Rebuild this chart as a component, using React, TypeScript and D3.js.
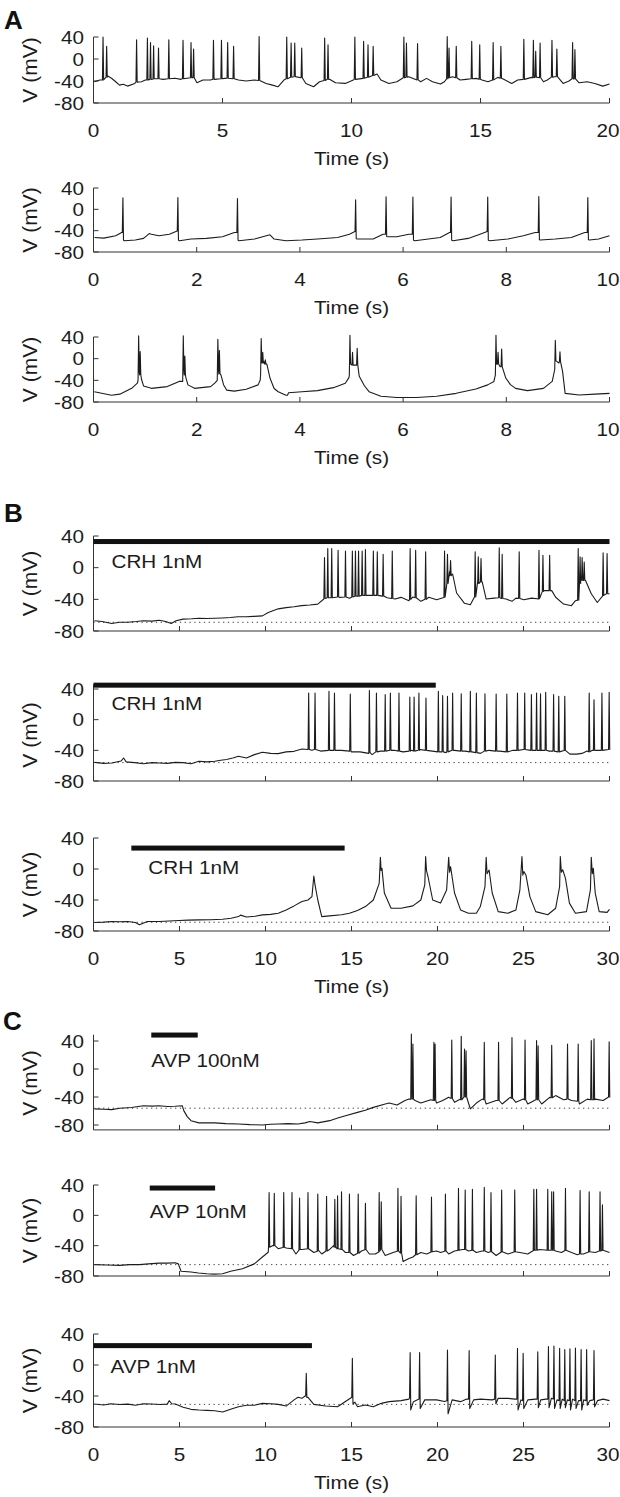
import React from 'react';
import * as d3 from 'd3';

type Pt = [number, number];
type Spk = number[]; // [t, peak, base, post?]

// ---------------- Panel A traces ----------------
const a1Base: Pt[] = [[0.03,-41.3],[0.25,-38.3],[0.55,-31],[0.7,-35],[0.86,-41.3],[1.01,-47.5],[1.15,-46],[1.32,-49.3],[1.60,-44.4],[1.86,-41.3],[2.01,-38.3],[2.32,-36.5],[2.70,-37],[3.16,-35],[3.39,-37],[3.82,-33.4],[4.01,-43.2],[4.24,-38.3],[4.54,-38.3],[5.08,-35.2],[5.62,-38.3],[5.92,-40.1],[6.23,-38.3],[6.69,-44.4],[6.9,-47],[7.15,-50.5],[7.38,-38.3],[7.77,-32.2],[8.23,-44.4],[8.53,-50.5],[8.76,-41.3],[9.15,-37],[9.38,-43.2],[9.76,-44.4],[10.07,-38.3],[10.45,-35.2],[10.99,-27.3],[11.14,-38.3],[11.45,-44.4],[11.76,-41.3],[12.22,-32.2],[12.68,-41.3],[12.91,-35.2],[13.14,-41.3],[13.45,-45.6],[13.60,-41.3],[13.91,-32.2],[14.21,-38.3],[14.44,-37],[14.83,-35.2],[15.06,-38.3],[15.29,-41.3],[15.67,-33.4],[15.90,-37],[16.21,-44.4],[16.44,-38.3],[16.98,-33.4],[17.44,-41.3],[17.59,-38.3],[17.87,-32.2],[18.20,-44.4],[18.43,-40.1],[18.62,-36.5],[18.82,-43.2],[19.13,-41.3],[19.43,-44.4],[19.74,-49.3],[20.0,-45.6]];
const a1Spikes: Spk[] = [[0.37,40,-38],[0.51,23,-33],[1.67,35,-42],[2.09,38,-38],[2.21,30,-37],[2.33,24,-36],[2.52,20,-36],[2.92,35,-36],[3.47,34,-36],[3.78,30,-34],[3.88,18,-34],[4.65,34,-37],[4.96,34,-36],[5.20,30,-35],[5.43,23,-36],[6.42,41,-39],[7.49,40,-36],[7.66,29,-33],[7.80,29,-32],[8.07,20,-34],[8.96,38,-39],[9.09,26,-37],[10.13,40,-37],[10.47,32,-35],[10.64,26,-33],[10.84,23,-30],[12.03,40,-34],[12.13,29,-33],[12.56,28,-38],[13.71,41,-36],[13.78,20,-34],[14.06,23,-34],[14.66,32,-36],[14.97,26,-37],[15.49,30,-38],[15.79,23,-35],[16.68,36,-37],[17.05,34,-34],[17.14,14,-33],[17.31,29,-34],[17.77,34,-33],[17.96,18,-32],[18.57,30,-36],[18.66,17,-36]];

const a2Base: Pt[] = [[0.02,-52.7],[0.20,-54],[0.43,-49.6],[0.545,-43.5],[0.60,-58.8],[0.81,-57.6],[0.97,-54.5],[1.08,-45.4],[1.12,-46.6],[1.27,-49.6],[1.47,-46.6],[1.62,-40.5],[1.67,-58.8],[1.89,-55.7],[2.19,-54.5],[2.50,-51.5],[2.73,-43.5],[2.82,-58.8],[3.12,-55.7],[3.42,-47.8],[3.50,-55.7],[3.73,-58.8],[4.04,-57.6],[4.34,-55.7],[4.73,-52.7],[4.96,-46.6],[5.065,-41.7],[5.11,-55.7],[5.42,-55.7],[5.61,-46.6],[5.71,-51.5],[5.88,-51.5],[6.11,-46.6],[6.23,-58.8],[6.49,-55.7],[6.72,-52.7],[6.90,-43.5],[6.97,-58.8],[7.26,-54.5],[7.49,-46.6],[7.63,-41.7],[7.68,-58.8],[8.03,-55.7],[8.33,-49.6],[8.56,-43.5],[8.66,-57.6],[8.95,-55.7],[9.26,-52.7],[9.52,-43.5],[9.61,-57.6],[9.79,-55.7],[10.0,-49.6]];
const a2Spikes: Spk[] = [[0.57,21.7,-43.5,-58],[1.635,22,-40.5,-58],[2.79,20,-43.5,-58],[5.08,18,-41.7,-55],[5.67,23.5,-46.6,-51],[6.19,23,-46.6,-58],[6.93,23,-43.5,-58],[7.64,23,-41.7,-58],[8.63,24,-43.5,-57],[9.58,22,-43.5,-57]];

const a3Base: Pt[] = [[0.015,-61],[0.35,-67.4],[0.51,-65.5],[0.74,-54.8],[0.85,-45.3],[0.93,-38],[0.97,-50.3],[1.12,-54.8],[1.43,-51.6],[1.66,-42],[1.79,-35],[1.83,-48.4],[1.96,-54.8],[2.27,-51.6],[2.35,-45],[2.47,-30],[2.52,-48],[2.58,-58],[2.73,-60],[2.96,-56.6],[3.19,-48.4],[3.23,-40],[3.30,-5],[3.36,-10],[3.42,-35.8],[3.50,-55],[3.58,-61],[3.73,-67.4],[3.76,-67.4],[3.78,-63],[4.04,-61],[4.34,-59],[4.65,-53.5],[4.88,-45.3],[4.95,-35],[5.06,-12],[5.15,-32.6],[5.25,-50],[5.34,-61],[5.57,-69.3],[5.88,-71.8],[6.26,-71.8],[6.65,-69.3],[7.03,-64],[7.41,-56],[7.64,-48.4],[7.76,-42],[7.88,-15],[7.99,-35.8],[8.08,-48],[8.18,-54.8],[8.41,-59],[8.72,-54.8],[8.89,-42],[9.02,-8],[9.09,-23],[9.14,-64],[9.41,-67],[9.72,-65.5],[10.0,-64]];
const a3Spikes: Spk[] = [[0.875,42,-40,-25],[0.905,13,-30],[1.74,42,-42,-20],[1.77,5,-30],[2.41,35.6,-40,-20],[2.44,15,-28],[3.25,37,-30,-8],[3.28,11.6,-8],[3.33,-2,-10],[4.97,43,-30,-10],[5.02,11.6,-12],[5.11,19,-12],[7.80,43,-30,-10],[7.84,11.6,-10],[7.91,17.9,-15],[8.95,33.7,-20,-4],[9.04,12.8,-6]];

// ---------------- Panel B traces ----------------
const b1Base: Pt[] = [[0.05,-67],[0.5,-68],[1.06,-70.6],[1.5,-69],[1.98,-69],[2.5,-68],[2.90,-67],[3.4,-67.5],[3.82,-66.4],[4.2,-68],[4.52,-70.6],[4.8,-67],[5.21,-65],[5.7,-64.5],[6.13,-63.8],[6.6,-64.2],[7.05,-63.8],[7.5,-63.5],[7.97,-63],[8.4,-62],[8.89,-62],[9.3,-61.5],[9.82,-60.9],[10.16,-56.6],[10.74,-52],[11.2,-50.5],[11.66,-49.4],[12.1,-48],[12.58,-47.2],[13.04,-46],[13.39,-39.6],[13.8,-38],[14.3,-37.5],[14.88,-38.5],[15.35,-36],[15.9,-35],[16.38,-35],[16.9,-36],[17.07,-38],[17.53,-39.6],[17.88,-37.5],[18.34,-41.7],[18.57,-37],[19.03,-42.5],[19.49,-37.4],[19.95,-40.5],[20.41,-37.4],[20.7,-5],[20.88,-8],[21.11,-32],[21.57,-45],[21.91,-46.8],[22.14,-37.4],[22.35,-15],[22.6,-18],[22.83,-39.6],[23.29,-38.5],[23.99,-39.6],[24.33,-42.5],[24.56,-38.5],[25.02,-40.5],[25.48,-38.5],[25.9,-39.6],[26.15,-29],[26.64,-29],[26.87,-37.4],[27.33,-46],[27.79,-48],[28.02,-41.7],[28.3,-15],[28.6,-16],[28.94,-33],[29.29,-44],[29.63,-35],[30,-33]];
const b1Spikes: Spk[] = [[13.43,12.8,-39],[13.62,24,-38],[13.85,24,-38],[14.22,22,-37],[14.65,21,-37],[15.05,21,-37],[15.23,21,-36],[15.41,21,-36],[15.62,21,-35],[15.81,23,-35],[16.27,21,-35],[16.50,20,-35],[16.84,17,-36],[17.37,21,-39],[18.41,24,-40],[18.73,22,-38],[19.31,20,-40],[20.41,21,-37],[20.58,17,-20],[20.76,9,-10],[22.19,20,-37],[22.37,13.6,-20],[22.53,11.5,-18],[23.59,25,-38],[23.76,17,-39],[24.75,20,-39],[25.90,22,-39],[26.13,15.7,-30],[26.52,15.7,-29],[28.18,24,-41],[28.29,13.6,-20],[28.41,12.8,-16],[28.53,7,-16],[29.63,18.7,-35],[29.86,17.9,-33]];

const b2Base: Pt[] = [[0.05,-55.7],[0.6,-57],[1.06,-56.5],[1.6,-54],[1.75,-50],[1.9,-55],[2.4,-56],[2.9,-57.4],[3.4,-56],[3.82,-56.5],[4.3,-57],[4.75,-55.7],[5.2,-56],[5.67,-57.4],[6.13,-54.3],[6.6,-55],[7.05,-54.3],[7.4,-53],[7.74,-52],[8.1,-50],[8.43,-47.8],[8.89,-50],[9.36,-45.6],[9.82,-42.6],[10.3,-44],[10.74,-44.3],[11.2,-42],[11.66,-41.3],[12.12,-38.3],[12.7,-40],[13.2,-41],[13.9,-40],[14.4,-40],[15.0,-42],[15.5,-42],[16.0,-44],[16.2,-45.6],[16.7,-41],[17.5,-40],[18.0,-42],[18.5,-40],[19.0,-39],[19.7,-41],[20.5,-43],[21.0,-40],[21.6,-41],[22.0,-42],[22.5,-44],[23.0,-40],[23.6,-41],[24.0,-42],[24.4,-40],[25.0,-39],[25.5,-40],[26.0,-40],[26.5,-41],[27.0,-42],[27.4,-40],[27.7,-45],[28.1,-45],[28.4,-44],[28.7,-41],[29.0,-40],[29.5,-40],[30,-39]];
const b2Spikes: Spk[] = [[12.51,34.8,-39],[12.88,34.8,-39],[13.69,37,-40],[14.01,34.8,-40],[14.93,33.5,-41],[16.04,38,-43],[16.45,34.8,-42],[16.96,32.6,-41],[17.26,34.8,-40],[17.76,34.8,-41],[18.39,29.6,-41],[18.64,29.6,-41],[18.92,34.8,-40],[19.33,28.3,-40],[20.05,37,-42],[20.30,31.3,-42],[20.58,30.4,-42],[20.88,34.8,-40],[21.38,33.9,-41],[21.91,37,-42],[22.26,34.8,-43],[22.76,33.9,-41],[23.41,33.5,-41],[24.03,33.5,-42],[24.65,34.8,-40],[25.07,34.8,-39],[25.46,32.6,-40],[25.76,34.8,-40],[25.99,33.9,-40],[26.29,35.7,-40],[26.75,32.6,-41],[27.05,30.4,-42],[27.40,30.4,-40],[28.82,34.8,-42],[29.10,26,-40],[29.56,34.8,-40],[29.98,35.7,-39]];

const b3Base: Pt[] = [[0.05,-69],[0.6,-68.5],[1.06,-67.8],[1.5,-68],[1.98,-67.8],[2.44,-69],[2.67,-72],[3.13,-67.8],[3.82,-67.8],[4.4,-67],[4.98,-66.5],[5.5,-66],[6.13,-65.7],[6.8,-65.5],[7.51,-64.8],[8.0,-63.5],[8.43,-61.4],[8.55,-59.5],[8.89,-62],[9.4,-61],[9.82,-59.2],[10.3,-58.5],[10.74,-57],[11.20,-52.8],[11.66,-47.6],[12.12,-42],[12.47,-40],[12.70,-35.6],[12.81,-9],[12.88,-20.6],[13.04,-40],[13.27,-61.4],[13.73,-60.5],[14.42,-59],[14.88,-57],[15.35,-53.6],[15.81,-48.5],[16.27,-40],[16.61,-18.5],[16.68,15],[16.72,-2],[16.77,0.8],[16.91,-31],[17.30,-50.6],[17.88,-50.6],[18.57,-47.6],[19.03,-40],[19.26,-20.6],[19.31,16],[19.36,-2],[19.45,-10],[19.72,-40],[20.18,-44],[20.53,-27],[20.65,15],[20.70,-4],[20.76,3],[20.99,-31],[21.34,-52.8],[21.80,-57],[22.26,-57],[22.49,-48.5],[22.76,-22.7],[22.83,15],[22.88,-6],[23.0,-1.3],[23.18,-31],[23.53,-55],[24.10,-57],[24.56,-52.8],[24.79,-27],[24.91,16],[24.96,-8],[25.02,-3.4],[25.14,-7.7],[25.37,-35.6],[25.71,-55],[26.41,-59],[26.87,-50.6],[27.10,-22.7],[27.14,16],[27.20,-4],[27.28,-1],[27.44,-12],[27.67,-44],[28.02,-57],[28.66,-55],[28.89,-27],[28.94,15],[29.0,-6],[29.06,1],[29.17,-31],[29.40,-55],[29.86,-56],[30,-52]];
const b3Spikes: Spk[] = [];

// ---------------- Panel C traces ----------------
const c1Base: Pt[] = [[0.05,-57],[0.6,-57.5],[1.06,-58],[1.52,-56],[2.21,-55],[2.90,-52.4],[3.4,-53],[3.82,-52.4],[4.3,-53.5],[4.75,-53.3],[5.16,-52.4],[5.25,-59.5],[5.45,-68],[5.67,-73.8],[6.13,-77],[7.05,-77],[7.7,-78],[8.43,-78.6],[9.1,-79.5],[9.82,-80],[10.3,-79],[10.74,-78.6],[11.3,-78],[11.89,-78.6],[12.3,-77],[12.58,-75],[13.04,-77],[13.73,-73.8],[14.2,-70],[14.65,-66.7],[15.35,-62],[15.8,-59],[16.27,-54.8],[16.96,-50],[17.19,-48.6],[17.65,-51.4],[18.11,-45],[18.34,-43],[18.69,-45],[19.03,-48.6],[19.61,-44],[19.95,-48.6],[20.3,-45],[20.65,-40.5],[20.99,-47.6],[21.34,-43],[21.80,-48.6],[21.91,-57],[22.26,-48.6],[22.60,-43],[22.83,-50],[23.41,-45],[23.76,-50],[24.22,-40.5],[24.56,-47.6],[24.98,-43],[25.25,-50],[25.71,-44],[26.06,-50],[26.52,-40.5],[26.87,-38],[27.33,-44],[27.79,-45],[28.25,-50],[28.71,-43],[29.17,-43],[29.63,-45],[30,-39]];
const c1Spikes: Spk[] = [[18.48,50,-43],[18.57,35.7,-43],[19.79,38,-45],[19.86,35.7,-45],[20.83,41.4,-42],[21.38,46.7,-44],[21.57,28.6,-40],[21.66,26,-40],[22.72,38,-44],[23.55,38,-45],[24.33,45,-42],[25.09,41.4,-44],[25.76,40.5,-44],[25.85,33,-44],[26.64,34,-41],[27.56,35.7,-43],[28.18,35.7,-46],[28.94,40.5,-44],[29.10,43,-44],[29.98,39,-40]];

const c2Base: Pt[] = [[0.05,-65],[0.8,-65.5],[1.52,-66],[2.1,-65],[2.67,-65],[3.2,-64],[3.82,-63],[4.3,-63],[4.75,-62.6],[4.93,-64],[5.09,-73.8],[5.67,-74.7],[6.1,-76],[6.59,-77],[7.0,-77.5],[7.51,-77],[7.97,-73.8],[8.66,-70.4],[9.35,-64],[9.82,-55],[10.16,-48.7],[10.4,-40],[10.74,-44],[11.06,-42],[11.20,-43],[11.54,-44],[11.77,-51],[11.98,-45],[12.12,-45],[12.47,-44],[12.81,-49],[13.04,-47],[13.27,-51],[13.73,-45],[13.96,-40],[14.19,-44],[14.42,-45],[14.65,-49],[15.12,-53],[15.58,-47],[15.81,-45],[16.04,-51],[16.38,-51],[16.61,-48],[16.96,-53],[17.42,-49],[17.70,-47],[18.0,-61],[18.34,-57],[18.57,-55],[19.03,-49],[19.38,-51],[19.65,-48],[19.95,-47],[20.18,-49],[20.46,-47],[20.65,-51],[20.99,-47],[21.22,-46],[21.45,-45],[21.80,-47],[22.03,-46],[22.26,-49],[22.60,-47],[22.95,-49],[23.41,-53],[23.73,-48],[24.10,-51],[24.49,-48],[24.79,-49],[25.25,-51],[25.60,-46],[25.94,-45],[26.41,-46],[26.87,-47],[27.21,-49],[27.44,-46],[27.79,-49],[28.13,-52],[28.48,-51],[28.82,-48],[29.17,-49],[29.59,-46],[30,-49]];
const c2Spikes: Spk[] = [[10.21,30,-42],[10.51,29,-40],[11.06,30,-42],[11.54,30,-44],[11.98,22.7,-45],[12.47,30,-44],[13.04,28,-46],[13.55,25,-47],[14.03,21,-42],[14.19,25.7,-44],[14.42,31,-45],[14.88,28,-49],[15.39,28,-50],[15.81,16,-45],[16.61,30,-47],[16.73,18,-45],[17.70,35.7,-47],[17.88,25,-50],[18.76,25.7,-52],[19.65,24,-48],[20.46,28,-47],[21.22,35.7,-46],[21.61,33.5,-45],[22.03,34.4,-46],[22.72,37,-47],[23.11,30,-48],[23.73,33.5,-48],[24.49,33.5,-48],[25.60,34.4,-46],[25.76,34.4,-46],[26.41,34.4,-46],[26.64,31,-46],[26.75,31,-46],[27.44,35.7,-46],[28.29,32.6,-51],[28.82,31,-48],[29.45,31,-47],[29.59,14,-46]];

const c3Base: Pt[] = [[0.05,-50.3],[0.6,-51.6],[1.0,-50],[1.52,-51],[2.0,-50.5],[2.44,-52],[2.9,-50],[3.36,-50.3],[3.9,-51],[4.29,-50.5],[4.40,-46],[4.55,-50],[4.75,-50.3],[5.21,-54.6],[5.67,-57.2],[6.13,-58],[6.6,-58.5],[7.05,-59],[7.51,-60.6],[7.97,-57],[8.43,-53.8],[8.9,-52],[9.35,-52],[9.82,-49.5],[10.3,-50],[10.74,-50.8],[11.20,-53],[11.66,-45],[11.89,-41.7],[12.12,-43],[12.30,-40],[12.47,-41.7],[12.81,-50.8],[13.50,-53],[14.19,-53.8],[14.65,-47],[15.0,-42],[15.2,-48],[15.35,-53.8],[15.81,-51.6],[16.27,-53.8],[16.73,-49.5],[17.19,-47.3],[17.88,-46],[18.34,-44],[18.6,-47.3],[19.26,-45],[19.95,-45],[20.41,-47],[20.85,-45],[21.34,-47.3],[21.70,-44],[22.1,-45],[22.49,-44],[23.18,-45],[23.53,-43],[24.10,-43],[24.50,-44],[24.85,-45],[25.25,-45],[25.70,-44],[26.0,-45],[26.30,-44],[26.62,-43],[26.95,-45],[27.25,-44],[27.55,-45],[27.85,-44],[28.2,-46],[28.5,-45],[28.85,-46],[29.3,-46],[29.63,-44],[30,-46]];
const c3Spikes: Spk[] = [[12.37,-10.8,-40,-42],[15.05,8.6,-42,-50],[18.41,16,-42,-58],[18.96,16,-44,-56],[20.58,19.4,-46,-63],[21.84,18.5,-44,-56],[23.36,13,-44,-50],[24.65,21.5,-44,-58],[24.98,15,-46,-56],[25.83,17,-44,-55],[26.45,23.7,-44,-55],[26.77,24.5,-44,-56],[27.10,21.5,-46,-56],[27.40,20,-46,-55],[27.70,21,-46,-58],[28.02,22,-46,-56],[28.35,20,-46,-58],[28.67,20,-46,-52],[29.10,18.5,-45,-54]];

// ---------------- Axis ticks & annotations ----------------
const vTicks = [40, 0, -40, -80];
const ticks20 = [0, 5, 10, 15, 20];
const ticks10 = [0, 2, 4, 6, 8, 10];
const ticks30 = [0, 5, 10, 15, 20, 25, 30];

const drugLabels = ['CRH 1nM', 'CRH 1nM', 'CRH 1nM', 'AVP 100nM', 'AVP 10nM', 'AVP 1nM'];
const drugOn = [0, 0, 2.2, 3.36, 3.27, 0];
const drugOff = [30, 19.9, 14.6, 6.06, 7.07, 12.7];
const drugBarMv = [33, 45, 27, 48.5, 36, 25];
const restMv = [-69, -56, -68.7, -56, -65, -50.8];

// ---------------- Layout (positions only) ----------------
const X_LEFT = 93.5;
const X_RIGHT = 609.5;
const FONT = "'Liberation Sans', Arial, Helvetica, sans-serif";
const INK = '#1c1c1c';
const SX = 1.15; // horizontal stretch of text, as in the reference
const FS = 18;

const panels = [
  { base: a1Base, spikes: a1Spikes, tMax: 20, xt: ticks20, y40: 37, y80: 103, lo: -80, hi: 40, xLab: true, drug: -1, lblDx: 0, lblDy: 0 },
  { base: a2Base, spikes: a2Spikes, tMax: 10, xt: ticks10, y40: 188, y80: 252, lo: -80, hi: 40, xLab: true, drug: -1, lblDx: 0, lblDy: 0 },
  { base: a3Base, spikes: a3Spikes, tMax: 10, xt: ticks10, y40: 337, y80: 402, lo: -80, hi: 40, xLab: true, drug: -1, lblDx: 0, lblDy: 0 },
  { base: b1Base, spikes: b1Spikes, tMax: 30, xt: ticks30, y40: 536, y80: 631, lo: -80, hi: 40, xLab: false, drug: 0, lblDx: 18, lblDy: 20 },
  { base: b2Base, spikes: b2Spikes, tMax: 30, xt: ticks30, y40: 689, y80: 781, lo: -80, hi: 46, xLab: false, drug: 1, lblDx: 18, lblDy: 18 },
  { base: b3Base, spikes: b3Spikes, tMax: 30, xt: ticks30, y40: 838, y80: 931, lo: -80, hi: 40, xLab: true, drug: 2, lblDx: 17, lblDy: 19 },
  { base: c1Base, spikes: c1Spikes, tMax: 30, xt: ticks30, y40: 1041, y80: 1125, lo: -87, hi: 49, xLab: false, drug: 3, lblDx: 0, lblDy: 25 },
  { base: c2Base, spikes: c2Spikes, tMax: 30, xt: ticks30, y40: 1185, y80: 1276, lo: -80, hi: 40, xLab: false, drug: 4, lblDx: 0, lblDy: 23 },
  { base: c3Base, spikes: c3Spikes, tMax: 30, xt: ticks30, y40: 1334, y80: 1427, lo: -80, hi: 40, xLab: true, drug: 5, lblDx: 17, lblDy: 21 },
];

const letters = [
  { t: 'A', x: 4, y: 29 },
  { t: 'B', x: 4, y: 522 },
  { t: 'C', x: 3, y: 1030 },
];

function Txt(props: { x: number; y: number; anchor?: string; children: any }) {
  const { x, y, anchor = 'middle', children } = props;
  return (
    <text
      transform={`translate(${x},${y}) scale(${SX},1)`}
      textAnchor={anchor}
      fontSize={FS}
      fontFamily={FONT}
      fill={INK}
    >
      {children}
    </text>
  );
}

function tracePoints(base: Pt[], spikes: Spk[], x: any, y: any): [number, number][] {
  const items = [
    ...base.map((p) => ({ t: p[0], pts: [[x(p[0]), y(p[1])]] as [number, number][] })),
    ...spikes.map((s) => {
      const cx = x(s[0]);
      const post = s.length > 3 ? s[3] : s[2];
      return {
        t: s[0],
        pts: [
          [cx - 0.6, y(s[2])],
          [cx, y(s[1])],
          [cx + 0.6, y(post)],
        ] as [number, number][],
      };
    }),
  ].sort((a, b) => a.t - b.t);
  return items.flatMap((i) => i.pts);
}

function Panel({ p }: { p: (typeof panels)[number] }) {
  const x = d3.scaleLinear().domain([0, p.tMax]).range([X_LEFT, X_RIGHT]);
  const y = d3.scaleLinear().domain([-80, 40]).range([p.y80, p.y40]);
  const yTop = y(p.hi);
  const yBot = y(p.lo);
  const line = d3.line<[number, number]>().x((d) => d[0]).y((d) => d[1]);
  const pts = tracePoints(p.base, p.spikes, x, y);
  const mid = (p.y40 + p.y80) / 2;
  const d = p.drug;
  // keep the right-most tick label inside the 620px page
  const labelX = (t: number) => {
    const half = (String(t).length * 0.556 * FS * SX) / 2;
    return Math.min(x(t), 619.5 - half);
  };
  return (
    <g>
      {d >= 0 && (
        <line
          x1={X_LEFT}
          x2={X_RIGHT}
          y1={y(restMv[d])}
          y2={y(restMv[d])}
          stroke="#333"
          strokeWidth={1}
          strokeDasharray="1.2 3.6"
        />
      )}
      <line x1={X_LEFT} x2={X_LEFT} y1={yTop} y2={yBot} stroke="#333" strokeWidth={1} />
      <line x1={X_LEFT} x2={X_RIGHT} y1={yBot} y2={yBot} stroke="#333" strokeWidth={1} />
      {vTicks.map((v) => (
        <g key={'v' + v}>
          <line x1={X_LEFT} x2={X_LEFT + 5} y1={y(v)} y2={y(v)} stroke="#333" strokeWidth={1} />
          <Txt x={84} y={y(v) + 6.5} anchor="end">
            {v}
          </Txt>
        </g>
      ))}
      {p.xt.map((t) => (
        <g key={'t' + t}>
          <line x1={x(t)} x2={x(t)} y1={yBot} y2={yBot - 5} stroke="#333" strokeWidth={1} />
          {p.xLab && (
            <Txt x={labelX(t)} y={yBot + 33.5}>
              {t}
            </Txt>
          )}
        </g>
      ))}
      {p.xLab && (
        <Txt x={(X_LEFT + X_RIGHT) / 2} y={yBot + 61.5}>
          Time (s)
        </Txt>
      )}
      <text
        transform={`translate(37,${mid}) rotate(-90)`}
        textAnchor="middle"
        fontSize={21}
        fontFamily={FONT}
        fill={INK}
      >
        V (mV)
      </text>
      <path
        d={line(pts) || ''}
        fill="none"
        stroke={INK}
        strokeWidth={1.1}
        strokeLinejoin="round"
      />
      {d >= 0 && (
        <g>
          <rect
            x={x(drugOn[d])}
            y={y(drugBarMv[d]) - 2.5}
            width={x(drugOff[d]) - x(drugOn[d])}
            height={5}
            fill="#111"
          />
          <Txt x={x(drugOn[d]) + p.lblDx} y={y(drugBarMv[d]) + p.lblDy + 6.5} anchor="start">
            {drugLabels[d]}
          </Txt>
        </g>
      )}
    </g>
  );
}

export default function App() {
  return (
    <svg
      width={620}
      height={1497}
      viewBox="0 0 620 1497"
      style={{ position: 'absolute', left: 0, top: 0, background: '#fff' }}
    >
      <rect x={0} y={0} width={620} height={1497} fill="#fff" />
      {letters.map((l) => (
        <text key={l.t} x={l.x} y={l.y} fontSize={26} fontWeight="bold" fontFamily={FONT} fill="#111">
          {l.t}
        </text>
      ))}
      {panels.map((p, i) => (
        <Panel key={i} p={p} />
      ))}
    </svg>
  );
}
